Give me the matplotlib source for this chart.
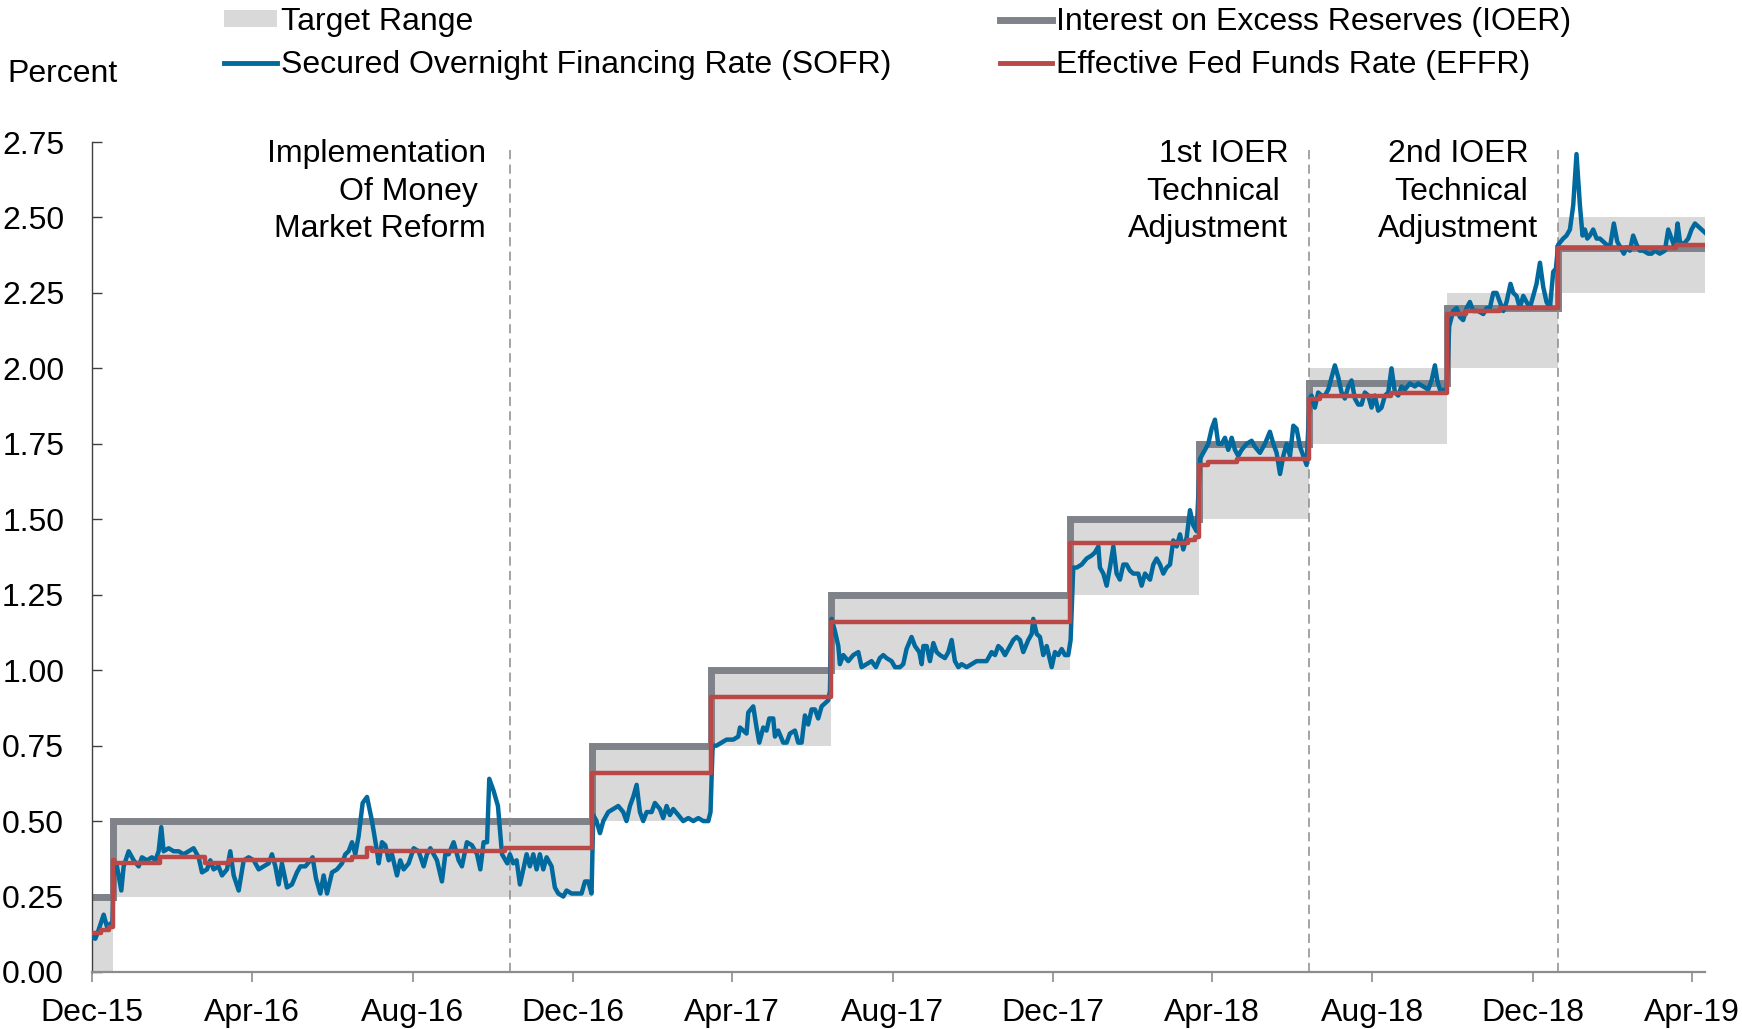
"""Money-market rates vs. the fed funds target range, Dec 2015 - Apr 2019."""
import pandas as pd
import matplotlib
matplotlib.use("Agg")
import matplotlib.pyplot as plt
import matplotlib.dates as mdates
from matplotlib.lines import Line2D
from matplotlib.patches import Patch

plt.rcParams["font.family"] = ["Liberation Sans", "DejaVu Sans"]
FS = 23

START = pd.Timestamp("2015-12-01")
END = pd.Timestamp("2019-04-11")

# policy changes (effective dates) -> target range and IOER
POLICY_DATES = ["2015-12-01", "2015-12-17", "2016-12-15", "2017-03-16", "2017-06-15",
                "2017-12-14", "2018-03-22", "2018-06-14", "2018-09-27", "2018-12-20"]
TARGET_LO = [0.00, 0.25, 0.50, 0.75, 1.00, 1.25, 1.50, 1.75, 2.00, 2.25]
TARGET_HI = [0.25, 0.50, 0.75, 1.00, 1.25, 1.50, 1.75, 2.00, 2.25, 2.50]
IOER = [0.25, 0.50, 0.75, 1.00, 1.25, 1.50, 1.75, 1.95, 2.20, 2.40]

# EFFR, value from the date on
EFFR_DATES = ["2015-12-01", "2015-12-08", "2015-12-14", "2015-12-17", "2015-12-18",
              "2016-01-22", "2016-02-25", "2016-03-14", "2016-06-16", "2016-06-27",
              "2016-07-01", "2016-10-10", "2016-12-15", "2017-03-16", "2017-06-15",
              "2017-12-14", "2018-03-14", "2018-03-19", "2018-03-22", "2018-03-29",
              "2018-04-20", "2018-06-14", "2018-06-22", "2018-08-15", "2018-09-27",
              "2018-10-11", "2018-11-06", "2018-12-20", "2019-03-20"]
EFFR = [0.13, 0.14, 0.15, 0.37, 0.36,
        0.38, 0.36, 0.37, 0.38, 0.41,
        0.40, 0.41, 0.66, 0.91, 1.16,
        1.42, 1.43, 1.44, 1.68, 1.69,
        1.70, 1.90, 1.91, 1.92, 2.18,
        2.19, 2.20, 2.40, 2.41]

# SOFR: (days since 2015-12-01, percent)
SOFR_2016 = [
    (0, 0.12), (2.5, 0.11), (5.1, 0.14), (8.9, 0.19), (11.4, 0.15), (13.9, 0.16), (15.5, 0.16),
    (16.7, 0.37), (19.0, 0.35), (22.3, 0.27), (24.1, 0.35), (27.9, 0.40), (31.7, 0.37),
    (35.5, 0.35), (38.0, 0.38), (41.8, 0.37), (45.6, 0.38), (48.2, 0.37), (50.7, 0.40),
    (52.7, 0.48), (54.5, 0.40), (58.3, 0.41), (62.1, 0.40), (65.9, 0.40), (69.7, 0.39),
    (73.5, 0.40), (77.3, 0.41), (81.1, 0.38), (83.7, 0.33), (87.5, 0.34), (90.0, 0.37),
    (92.5, 0.34), (96.3, 0.35), (98.9, 0.32), (102.7, 0.34), (105.2, 0.40), (107.8, 0.32),
    (111.6, 0.27), (115.4, 0.37), (119.2, 0.38), (123.0, 0.37), (126.8, 0.34), (130.6, 0.35),
    (134.4, 0.36), (136.9, 0.39), (139.5, 0.35), (142.0, 0.29), (144.5, 0.36), (148.3, 0.28),
    (152.1, 0.29), (155.9, 0.33), (158.5, 0.35), (162.3, 0.35), (166.1, 0.37), (167.8, 0.38),
    (170.4, 0.31), (173.7, 0.26), (176.2, 0.32), (178.8, 0.26), (182.6, 0.33), (186.4, 0.34),
    (190.2, 0.36), (192.7, 0.39), (195.2, 0.40), (197.8, 0.43), (200.3, 0.39), (202.8, 0.45),
    (205.9, 0.56), (209.2, 0.58), (213.0, 0.50), (216.8, 0.40), (218.1, 0.36), (220.6, 0.43),
    (223.1, 0.42), (225.7, 0.37), (228.2, 0.39), (232.0, 0.32), (234.5, 0.37), (237.1, 0.34),
    (240.9, 0.36), (244.7, 0.41), (248.5, 0.40), (252.3, 0.35), (254.8, 0.39), (257.4, 0.41),
    (259.9, 0.39), (262.4, 0.37), (266.2, 0.30), (268.8, 0.39), (271.3, 0.39), (275.1, 0.43),
    (278.9, 0.37), (281.4, 0.35), (285.2, 0.43), (289.0, 0.42), (292.9, 0.39), (295.4, 0.34),
    (297.9, 0.43), (300.5, 0.43), (302.2, 0.64), (305.5, 0.60), (308.8, 0.55), (311.9, 0.39),
    (315.9, 0.36), (317.9, 0.39), (320.4, 0.36), (323.0, 0.37), (325.5, 0.29), (328.1, 0.34),
    (330.6, 0.39), (333.1, 0.35), (335.7, 0.39), (338.2, 0.34), (340.7, 0.39), (343.3, 0.34),
    (345.8, 0.38), (349.6, 0.35), (352.1, 0.28), (354.7, 0.26), (358.5, 0.25), (361.0, 0.27),
    (364.8, 0.26), (368.6, 0.26), (372.4, 0.26), (375.0, 0.30), (377.5, 0.30), (380.0, 0.26),
    (381.3, 0.52), (383.8, 0.50), (386.4, 0.46), (388.9, 0.50), (392.7, 0.53), (396.5, 0.54),
]
SOFR_2017 = [
    (400.3, 0.55), (404.1, 0.53), (406.6, 0.50), (409.2, 0.55), (411.7, 0.58), (414.3, 0.62),
    (416.8, 0.53), (419.3, 0.50), (421.9, 0.53), (425.7, 0.53), (428.2, 0.56), (432.0, 0.54),
    (434.5, 0.51), (437.1, 0.55), (439.6, 0.52), (442.1, 0.54), (446.0, 0.52), (449.7, 0.50),
    (453.6, 0.51), (457.4, 0.50), (461.2, 0.51), (465.0, 0.50), (468.8, 0.50), (470.5, 0.53),
    (472.1, 0.75), (475.1, 0.75), (478.9, 0.76), (482.7, 0.77), (487.8, 0.77), (491.6, 0.78),
    (492.9, 0.81), (495.4, 0.80), (497.9, 0.79), (499.2, 0.86), (503.0, 0.88), (505.5, 0.81),
    (507.6, 0.76), (510.6, 0.81), (513.1, 0.80), (515.2, 0.84), (518.2, 0.84), (519.5, 0.78),
    (522.0, 0.80), (525.8, 0.76), (528.4, 0.76), (530.9, 0.79), (534.7, 0.80), (537.2, 0.76),
    (539.8, 0.76), (542.3, 0.85), (544.8, 0.82), (547.4, 0.87), (549.9, 0.87), (552.4, 0.84),
    (555.0, 0.88), (557.5, 0.89), (560.0, 0.90), (561.3, 0.93), (562.6, 1.17), (565.1, 1.13),
    (567.7, 1.08), (568.9, 1.02), (571.5, 1.05), (575.3, 1.03), (579.1, 1.05), (582.9, 1.06),
    (585.4, 1.01), (589.2, 1.02), (593.0, 1.03), (596.3, 1.01), (599.3, 1.04), (601.9, 1.05),
    (604.4, 1.04), (608.2, 1.03), (610.8, 1.01), (614.6, 1.01), (617.1, 1.02), (619.6, 1.07),
    (623.4, 1.11), (626.0, 1.08), (629.3, 1.06), (631.1, 1.02), (632.4, 1.08), (634.9, 1.08),
    (637.4, 1.03), (640.0, 1.09), (642.5, 1.06), (645.0, 1.05), (648.8, 1.04), (651.4, 1.06),
    (653.9, 1.10), (656.4, 1.03), (659.0, 1.01), (661.5, 1.02), (665.3, 1.01), (669.1, 1.02),
    (672.9, 1.03), (676.7, 1.03), (680.5, 1.03), (683.1, 1.05), (684.3, 1.06), (686.9, 1.05),
    (689.4, 1.08), (691.9, 1.07), (694.5, 1.05), (697.0, 1.07), (700.8, 1.10), (703.3, 1.11),
    (705.9, 1.10), (708.4, 1.06), (712.2, 1.10), (714.8, 1.12), (716.0, 1.17), (718.6, 1.12),
    (721.1, 1.11), (723.6, 1.05), (726.2, 1.08), (730.0, 1.01), (732.5, 1.06), (735.0, 1.05),
    (737.6, 1.07), (740.1, 1.05), (742.6, 1.05), (744.4, 1.10), (746.4, 1.34), (749.0, 1.34),
    (752.8, 1.35), (756.6, 1.37), (760.4, 1.38),
]
SOFR_2018 = [
    (762.9, 1.39), (765.5, 1.41), (766.7, 1.34), (769.3, 1.32), (771.8, 1.28), (774.3, 1.34),
    (776.9, 1.41), (779.4, 1.32), (781.9, 1.30), (784.5, 1.35), (787.0, 1.35), (789.5, 1.33),
    (792.1, 1.32), (795.9, 1.32), (798.4, 1.28), (801.0, 1.32), (804.8, 1.30), (807.3, 1.35),
    (809.8, 1.37), (812.4, 1.35), (814.9, 1.32), (817.4, 1.34), (820.0, 1.35), (822.5, 1.43),
    (825.1, 1.41), (827.6, 1.45), (830.1, 1.40), (832.7, 1.44), (835.2, 1.53), (837.7, 1.48),
    (840.3, 1.46), (842.8, 1.70), (845.3, 1.72), (849.1, 1.75), (851.7, 1.80), (854.2, 1.83),
    (856.7, 1.75), (859.3, 1.75), (861.8, 1.77), (864.3, 1.73), (866.9, 1.77), (869.4, 1.73),
    (871.9, 1.71), (874.5, 1.73), (878.3, 1.75), (882.1, 1.76), (884.6, 1.74), (888.4, 1.72),
    (892.2, 1.75), (896.0, 1.79), (898.6, 1.75), (901.1, 1.72), (903.7, 1.65), (906.2, 1.71),
    (908.7, 1.75), (911.3, 1.71), (913.8, 1.81), (916.3, 1.80), (918.9, 1.74), (921.4, 1.71),
    (923.9, 1.68), (926.2, 1.90), (927.7, 1.91), (930.2, 1.87), (932.7, 1.92), (935.3, 1.91),
    (937.8, 1.91), (940.4, 1.93), (942.9, 1.97), (945.4, 2.01), (948.0, 1.97), (950.5, 1.92),
    (953.0, 1.90), (955.6, 1.94), (958.1, 1.96), (960.6, 1.90), (963.2, 1.88), (965.7, 1.88),
    (968.2, 1.92), (970.8, 1.91), (973.3, 1.87), (975.8, 1.91), (978.4, 1.86), (980.9, 1.87),
    (983.5, 1.91), (986.0, 1.92), (988.5, 2.00), (991.1, 1.92), (993.6, 1.91), (996.1, 1.94),
    (998.7, 1.93), (1002.5, 1.95), (1006.3, 1.94), (1008.8, 1.95), (1012.6, 1.94), (1016.4, 1.93),
    (1019.0, 1.96), (1021.5, 2.01), (1023.3, 1.96), (1025.3, 1.93), (1027.8, 1.93), (1030.4, 1.93),
    (1032.4, 2.14), (1035.4, 2.19), (1038.0, 2.20), (1040.5, 2.17), (1043.0, 2.16), (1045.6, 2.20),
    (1048.1, 2.22), (1050.6, 2.19), (1054.4, 2.19), (1058.3, 2.18), (1060.8, 2.20), (1063.3, 2.20),
    (1065.9, 2.25), (1068.4, 2.25), (1070.9, 2.22), (1073.5, 2.19), (1076.0, 2.22), (1079.0, 2.28),
    (1081.1, 2.25), (1083.6, 2.24), (1086.1, 2.20), (1088.7, 2.24), (1091.2, 2.22), (1093.7, 2.20),
    (1096.3, 2.24), (1098.8, 2.28), (1101.4, 2.35), (1103.9, 2.27), (1106.4, 2.22), (1109.0, 2.20),
    (1111.5, 2.32), (1113.5, 2.33), (1115.3, 2.41), (1119.1, 2.43), (1121.6, 2.44), (1124.2, 2.46),
]
SOFR_2019 = [
    (1126.7, 2.54), (1129.2, 2.71), (1131.8, 2.54), (1133.8, 2.44), (1135.6, 2.46), (1137.4, 2.43),
    (1139.4, 2.44), (1141.9, 2.46), (1144.5, 2.43), (1147.0, 2.43), (1149.5, 2.42), (1152.1, 2.41),
    (1154.6, 2.40), (1157.6, 2.48), (1160.2, 2.42), (1162.7, 2.40), (1165.2, 2.38), (1167.3, 2.40),
    (1169.8, 2.39), (1172.3, 2.44), (1174.9, 2.41), (1177.4, 2.39), (1180.0, 2.39), (1183.8, 2.38),
    (1186.3, 2.38), (1188.8, 2.39), (1192.6, 2.38), (1196.4, 2.39), (1199.0, 2.46), (1201.5, 2.43),
    (1204.0, 2.40), (1206.1, 2.48), (1207.9, 2.42), (1210.4, 2.41), (1214.2, 2.43), (1216.7, 2.46),
    (1219.3, 2.48), (1221.8, 2.47), (1224.3, 2.46), (1226.9, 2.45),
]

MMF_REFORM = "2016-10-14"
IOER_ADJ = ["2018-06-14", "2018-12-20"]

C_RANGE, C_IOER, C_SOFR, C_EFFR = "#d9d9d9", "#80828a", "#00699d", "#b94846"
C_DASH = "#8c8c8c"


def steps(dates, vals):
    """extend a change-point series to the end of the window"""
    d = pd.DatetimeIndex(pd.to_datetime(dates)).append(pd.DatetimeIndex([END]))
    return d, list(vals) + [vals[-1]]


def dnum(s):
    return mdates.date2num(pd.Timestamp(s).to_pydatetime())


sofr = pd.DataFrame(SOFR_2016 + SOFR_2017 + SOFR_2018 + SOFR_2019, columns=["day", "rate"])
sofr["date"] = START + pd.to_timedelta(sofr["day"], unit="D")

fig = plt.figure(figsize=(17.42, 10.29), dpi=100)
ax = fig.add_axes([0.0528, 0.0554, 0.9260, 0.8066])

d, lo = steps(POLICY_DATES, TARGET_LO)
_, hi = steps(POLICY_DATES, TARGET_HI)
ax.fill_between(d, lo, hi, step="post", color=C_RANGE, lw=0, zorder=1)
d, v = steps(POLICY_DATES, IOER)
ax.step(d, v, where="post", color=C_IOER, lw=5.0, zorder=2, solid_joinstyle="miter")
ax.plot(sofr["date"], sofr["rate"], color=C_SOFR, lw=3.2, zorder=4, solid_joinstyle="round")
d, v = steps(EFFR_DATES, EFFR)
ax.step(d, v, where="post", color=C_EFFR, lw=3.2, zorder=5)

for s in [MMF_REFORM] + IOER_ADJ:
    ax.axvline(pd.Timestamp(s), ymin=0, ymax=0.99, color=C_DASH, lw=1.1,
               ls=(0, (6, 3.5)), zorder=3)

# event labels: (line date, text, x offset in px, alignment)
LINE_Y = [2.683, 2.557, 2.435]
notes = [
    (MMF_REFORM, ["Implementation", "Of Money", "Market Reform"], [-24, -32, -24], "right"),
    (IOER_ADJ[0], ["1st IOER", "Technical", "Adjustment"], [-21, -29, -21], "right"),
    (IOER_ADJ[1], ["2nd IOER", "Technical", "Adjustment"], [-100, -97, -100], "center"),
]
for date, lines, offs, ha in notes:
    for txt, dx, y in zip(lines, offs, LINE_Y):
        ax.annotate(txt, xy=(dnum(date), y), xytext=(dx, 0), textcoords="offset pixels",
                    ha=ha, va="baseline", fontsize=FS, annotation_clip=False)

ax.set_xlim(START, END)
ax.set_ylim(0, 2.75)
ax.set_yticks([i * 0.25 for i in range(12)])
ax.yaxis.set_major_formatter(plt.FormatStrFormatter("%.2f"))
ax.set_xticks(pd.date_range("2015-12-01", "2019-04-01", freq="4MS"))
ax.xaxis.set_major_formatter(mdates.DateFormatter("%b-%y"))
ax.tick_params(axis="x", direction="out", length=7, width=1.2, color="#8c8c8c",
               pad=12, labelsize=FS)
ax.tick_params(axis="y", direction="in", length=7, width=1.0, color="#404040",
               pad=20, labelsize=FS)
for side in ("top", "right"):
    ax.spines[side].set_visible(False)
ax.spines["left"].set_color("#404040")
ax.spines["left"].set_linewidth(1.0)
ax.spines["bottom"].set_color("#8c8c8c")
ax.spines["bottom"].set_linewidth(1.6)

fig.text(7 / 1742, 1 - 82 / 1029, "Percent", ha="left", va="baseline", fontsize=FS)

handles = [Patch(facecolor=C_RANGE, edgecolor="none", label="Target Range"),
           Line2D([], [], color=C_SOFR, lw=3.5, label="Secured Overnight Financing Rate (SOFR)"),
           Line2D([], [], color=C_IOER, lw=5, label="Interest on Excess Reserves (IOER)"),
           Line2D([], [], color=C_EFFR, lw=3.5, label="Effective Fed Funds Rate (EFFR)")]
fig.legend(handles=handles, loc="upper left", bbox_to_anchor=(224 / 1742, 1 - 7 / 1029),
           ncol=2, frameon=False, fontsize=FS, handlelength=1.65, handletextpad=0.12,
           columnspacing=3.4, labelspacing=0.4, handleheight=0.45, borderpad=0,
           borderaxespad=0)

fig.savefig("out.png", dpi=100)
